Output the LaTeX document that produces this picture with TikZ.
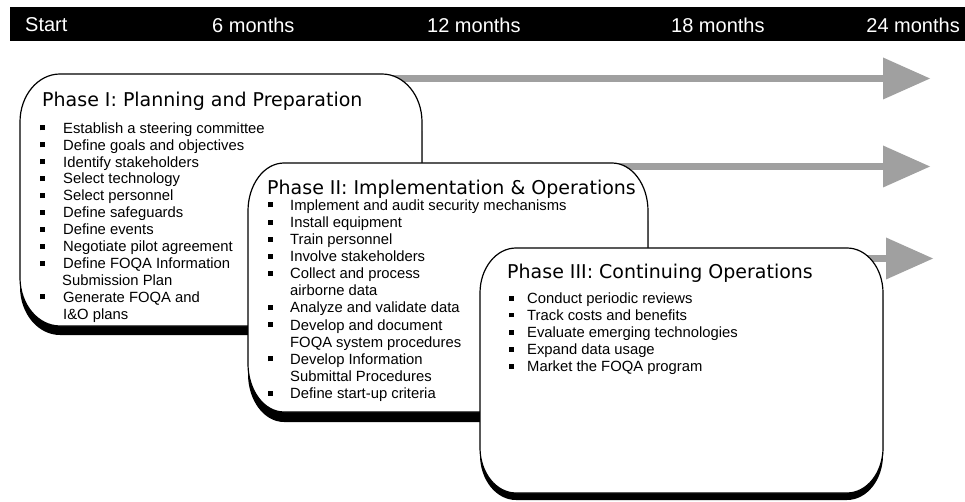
\documentclass[tikz,border=0pt]{standalone}
\usepackage{fontspec}
\setmainfont{Liberation Sans}
\newfontfamily\titlefont{DejaVu Sans}
\usetikzlibrary{arrows.meta}
\definecolor{arrgray}{RGB}{160,160,160}

\newcommand{\sqbul}[1]{\makebox[#1][l]{\rule[2.8pt]{5pt}{5pt}}}

% rounded box with elliptical corners and a drop shadow below
% #1 x1, #2 y1, #3 x2, #4 y2, #5 rx, #6 ry, #7 shadow offset
\newcommand{\phasebox}[7]{%
  \pgfmathsetmacro\La{#1+#5}\pgfmathsetmacro\Lb{#1+0.4477*#5}%
  \pgfmathsetmacro\Ra{#3-#5}\pgfmathsetmacro\Rb{#3-0.4477*#5}%
  \pgfmathsetmacro\Ta{#2+#6}\pgfmathsetmacro\Tb{#2+0.4477*#6}%
  \pgfmathsetmacro\Ba{#4-#6}\pgfmathsetmacro\Bb{#4-0.4477*#6}%
  \fill[black,yshift=-#7] (\La,#2) -- (\Ra,#2) .. controls (\Rb,#2) and (#3,\Tb) .. (#3,\Ta)
     -- (#3,\Ba) .. controls (#3,\Bb) and (\Rb,#4) .. (\Ra,#4)
     -- (\La,#4) .. controls (\Lb,#4) and (#1,\Bb) .. (#1,\Ba)
     -- (#1,\Ta) .. controls (#1,\Tb) and (\Lb,#2) .. (\La,#2) -- cycle;
  \filldraw[boxline] (\La,#2) -- (\Ra,#2) .. controls (\Rb,#2) and (#3,\Tb) .. (#3,\Ta)
     -- (#3,\Ba) .. controls (#3,\Bb) and (\Rb,#4) .. (\Ra,#4)
     -- (\La,#4) .. controls (\Lb,#4) and (#1,\Bb) .. (#1,\Ba)
     -- (#1,\Ta) .. controls (#1,\Tb) and (\Lb,#2) .. (\La,#2) -- cycle;
}

\begin{document}
\begin{tikzpicture}[x=1pt,y=-1pt,
  hdr/.style={text=white,font=\fontsize{20}{24}\selectfont,inner sep=0pt},
  ptitle/.style={font=\titlefont\fontsize{19}{22}\selectfont,anchor=base west,inner sep=0pt},
  pitem/.style={font=\fontsize{14.8}{17}\selectfont,anchor=west,inner sep=0pt,text height=10.6pt,text depth=0pt},
  garrow/.style={draw=arrgray,line width=7pt,-{Triangle[length=47pt,width=42pt,line width=0pt]}},
  boxline/.style={draw=black,line width=1.2pt,fill=white},
]
\useasboundingbox (0,0) rectangle (965,502);

% timeline header
\fill[black] (10,7) rectangle (965,41);
\node[hdr,anchor=west] (h0) at (25,25) {Start};
\node[hdr,anchor=west] (h6) at (212,25) {6 months};
\node[hdr,anchor=west] (h12) at (427,25) {12 months};
\node[hdr,anchor=west] (h18) at (671,25) {18 months};
\node[hdr,anchor=east] (h24) at (960,25) {24 months};

% arrows (behind the boxes)
\coordinate (a1s) at (380,78.5);
\coordinate (a1e) at (930,78.5);
\coordinate (a2s) at (610,166.5);
\coordinate (a2e) at (930,166.5);
\coordinate (a3s) at (850,258.5);
\coordinate (a3e) at (933,258.5);
\draw[garrow] (a1s) -- (a1e);
\draw[garrow] (a2s) -- (a2e);
\draw[garrow] (a3s) -- (a3e);

% Phase I
\phasebox{20}{74}{422}{326}{40}{48}{9pt}
\node[ptitle] (t1) at (42,107) {Phase I: Planning and Preparation};
\foreach \t [count=\i from 0] in {
  {\sqbul{23pt}Establish a steering committee},
  {\sqbul{23pt}Define goals and objectives},
  {\sqbul{23pt}Identify stakeholders},
  {\sqbul{23pt}Select technology},
  {\sqbul{23pt}Select personnel},
  {\sqbul{23pt}Define safeguards},
  {\sqbul{23pt}Define events},
  {\sqbul{23pt}Negotiate pilot agreement},
  {\sqbul{23pt}Define FOQA Information},
  {\hspace{22pt}Submission Plan},
  {\sqbul{23pt}Generate FOQA and},
  {\hspace{23pt}I\&O plans}}
  \node[pitem] (p1i\i) at (40,{128+16.9*\i}) {\t};

% Phase II
\phasebox{248}{163}{648}{412}{36}{48}{10pt}
\node[ptitle] (t2) at (267,195) {Phase II: Implementation \& Operations};
\foreach \t [count=\i from 0] in {
  {\sqbul{22pt}Implement and audit security mechanisms},
  {\sqbul{22pt}Install equipment},
  {\sqbul{22pt}Train personnel},
  {\sqbul{22pt}Involve stakeholders},
  {\sqbul{22pt}Collect and process},
  {\hspace{22pt}airborne data},
  {\sqbul{22pt}Analyze and validate data},
  {\sqbul{22pt}Develop and document},
  {\hspace{22pt}FOQA system procedures},
  {\sqbul{22pt}Develop Information},
  {\hspace{22pt}Submittal Procedures},
  {\sqbul{22pt}Define start-up criteria}}
  \node[pitem] (p2i\i) at (268,{205+17.1*\i}) {\t};

% Phase III
\phasebox{480}{248}{883}{493}{36}{45}{7pt}
\node[ptitle] (t3) at (507,279) {Phase III: Continuing Operations};
\foreach \t [count=\i from 0] in {
  {\sqbul{18pt}Conduct periodic reviews},
  {\sqbul{18pt}Track costs and benefits},
  {\sqbul{18pt}Evaluate emerging technologies},
  {\sqbul{18pt}Expand data usage},
  {\sqbul{18pt}Market the FOQA program}}
  \node[pitem] (p3i\i) at (509,{298+17*\i}) {\t};
\end{tikzpicture}
\end{document}
